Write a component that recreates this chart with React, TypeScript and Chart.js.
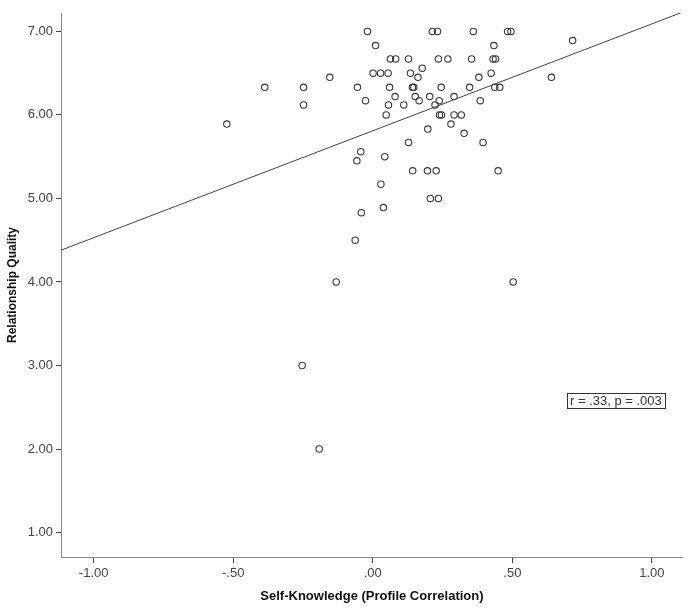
import React, { useEffect, useRef } from "react";
import { Chart, registerables } from "chart.js";

Chart.register(...registerables);

// Self-Knowledge (Profile Correlation)
const selfKnowledge: number[] = [
  -0.019, 0.213, 0.232, 0.36, 0.483, 0.495,
  0.01, 0.434,
  0.063, 0.082, 0.128, 0.235, 0.269, 0.354, 0.431, 0.44,
  0.001, 0.028, 0.055, 0.135, 0.177, 0.424,
  0.162, 0.38, 0.64, 0.716,
  0.06, 0.142, 0.147, 0.245, 0.347, 0.437, 0.455,
  0.08, 0.152, 0.166, 0.204, 0.238, 0.291, 0.385,
  0.056, 0.111, 0.223,
  0.048, 0.239, 0.246, 0.291, 0.317,
  0.197, 0.28, 0.327, 0.128, 0.395,
  -0.154, -0.387, -0.248, -0.055, -0.248, -0.026, -0.523,
  -0.043, -0.057, 0.043,
  0.143, 0.196, 0.227, 0.449,
  0.029, 0.206, 0.235, 0.038, -0.041, -0.063,
  -0.131, 0.503, -0.253, -0.192,
];

// Relationship Quality
const relationshipQuality: number[] = [
  7.0, 7.0, 7.0, 7.0, 7.0, 7.0,
  6.83, 6.83,
  6.67, 6.67, 6.67, 6.67, 6.67, 6.67, 6.67, 6.67,
  6.5, 6.5, 6.5, 6.5, 6.56, 6.5,
  6.45, 6.45, 6.45, 6.89,
  6.33, 6.33, 6.33, 6.33, 6.33, 6.33, 6.33,
  6.22, 6.22, 6.17, 6.22, 6.17, 6.22, 6.17,
  6.12, 6.12, 6.12,
  6.0, 6.0, 6.0, 6.0, 6.0,
  5.83, 5.89, 5.78, 5.67, 5.67,
  6.45, 6.33, 6.33, 6.33, 6.12, 6.17, 5.89,
  5.56, 5.45, 5.5,
  5.33, 5.33, 5.33, 5.33,
  5.17, 5.0, 5.0, 4.89, 4.83, 4.5,
  4.0, 4.0, 3.0, 2.0,
];

const xTickValues: number[] = [-1, -0.5, 0, 0.5, 1];
const yTickValues: number[] = [1, 2, 3, 4, 5, 6, 7];

const xMin = -1.117;
const xMax = 1.111;
const yMin = 0.707;
const yMax = 7.22;

// Linear fit line
const fitSlope = 1.28;
const fitIntercept = 5.81;

const statText = "r = .33, p = .003";
const statAnchorX = 0.871;
const statAnchorY = 2.584;

const xTitle = "Self-Knowledge (Profile Correlation)";
const yTitle = "Relationship Quality";

const FONT = "'Liberation Sans', Arial, Helvetica, sans-serif";

const fmt = (v: number) => v.toFixed(2).replace(/^(-?)0\./, "$1.");

const statPlugin = {
  id: "statBox",
  afterDatasetsDraw(chart: any) {
    const { ctx, scales } = chart;
    const cx = scales.x.getPixelForValue(statAnchorX);
    const cy = scales.y.getPixelForValue(statAnchorY);
    ctx.save();
    ctx.font = `13px ${FONT}`;
    const w = ctx.measureText(statText).width;
    const bw = w + 6;
    const bh = 15;
    ctx.fillStyle = "#ffffff";
    ctx.fillRect(cx - bw / 2, cy - bh / 2, bw, bh);
    ctx.strokeStyle = "#333333";
    ctx.lineWidth = 1;
    ctx.strokeRect(Math.round(cx - bw / 2) + 0.5, Math.round(cy - bh / 2) + 0.5, Math.round(bw), bh);
    ctx.fillStyle = "#333333";
    ctx.textAlign = "center";
    ctx.textBaseline = "middle";
    ctx.fillText(statText, cx, cy + 1);
    ctx.restore();
  },
};

export default function App() {
  const canvasRef = useRef<HTMLCanvasElement | null>(null);

  useEffect(() => {
    if (!canvasRef.current) return;
    const points = selfKnowledge.map((x, i) => ({ x, y: relationshipQuality[i] }));
    const fitLine = [
      { x: xMin, y: fitIntercept + fitSlope * xMin },
      { x: xMax, y: fitIntercept + fitSlope * xMax },
    ];

    const chart = new Chart(canvasRef.current, {
      type: "scatter",
      data: {
        datasets: [
          {
            data: fitLine,
            showLine: true,
            borderColor: "#444444",
            borderWidth: 1,
            pointRadius: 0,
            fill: false,
          } as any,
          {
            data: points,
            pointRadius: 3.2,
            pointBorderWidth: 1.1,
            pointBorderColor: "#3a3a3a",
            pointBackgroundColor: "rgba(0,0,0,0)",
            showLine: false,
          } as any,
        ],
      },
      options: {
        responsive: false,
        animation: false,
        layout: { padding: { top: 13, right: 5, left: 0, bottom: 0 } },
        plugins: {
          legend: { display: false },
          tooltip: { enabled: false },
        },
        scales: {
          x: {
            type: "linear",
            position: "bottom",
            min: xMin,
            max: xMax,
            afterFit: (s: any) => {
              s.height = 52;
            },
            afterBuildTicks: (s: any) => {
              s.ticks = xTickValues.map((v) => ({ value: v }));
            },
            grid: {
              drawOnChartArea: false,
              drawTicks: true,
              tickLength: 6,
              tickColor: "#444444",
            },
            border: { display: true, color: "#8a8a8a", width: 1 },
            ticks: {
              autoSkip: false,
              maxRotation: 0,
              padding: 3,
              color: "#444444",
              font: { family: FONT, size: 13 },
              callback: (v: any) => fmt(Number(v)),
            },
            title: {
              display: true,
              text: xTitle,
              color: "#111111",
              font: { family: FONT, size: 13, weight: "bold" },
              padding: { top: 0, bottom: 5 },
            },
          },
          y: {
            type: "linear",
            min: yMin,
            max: yMax,
            afterFit: (s: any) => {
              s.width = 61;
            },
            afterBuildTicks: (s: any) => {
              s.ticks = yTickValues.map((v) => ({ value: v }));
            },
            grid: {
              drawOnChartArea: false,
              drawTicks: true,
              tickLength: 5,
              tickColor: "#444444",
            },
            border: { display: true, color: "#8a8a8a", width: 1 },
            ticks: {
              autoSkip: false,
              padding: 3,
              color: "#444444",
              font: { family: FONT, size: 13 },
              callback: (v: any) => fmt(Number(v)),
            },
            title: {
              display: true,
              text: yTitle,
              color: "#111111",
              font: { family: FONT, size: 12, weight: "bold" },
              padding: { top: 5, bottom: 0 },
            },
          },
        },
      },
      plugins: [statPlugin],
    });

    return () => chart.destroy();
  }, []);

  return (
    <div style={{ position: "absolute", left: 0, top: 0, width: 688, height: 609, background: "#ffffff" }}>
      <canvas ref={canvasRef} width={688} height={609} style={{ display: "block" }} />
    </div>
  );
}
